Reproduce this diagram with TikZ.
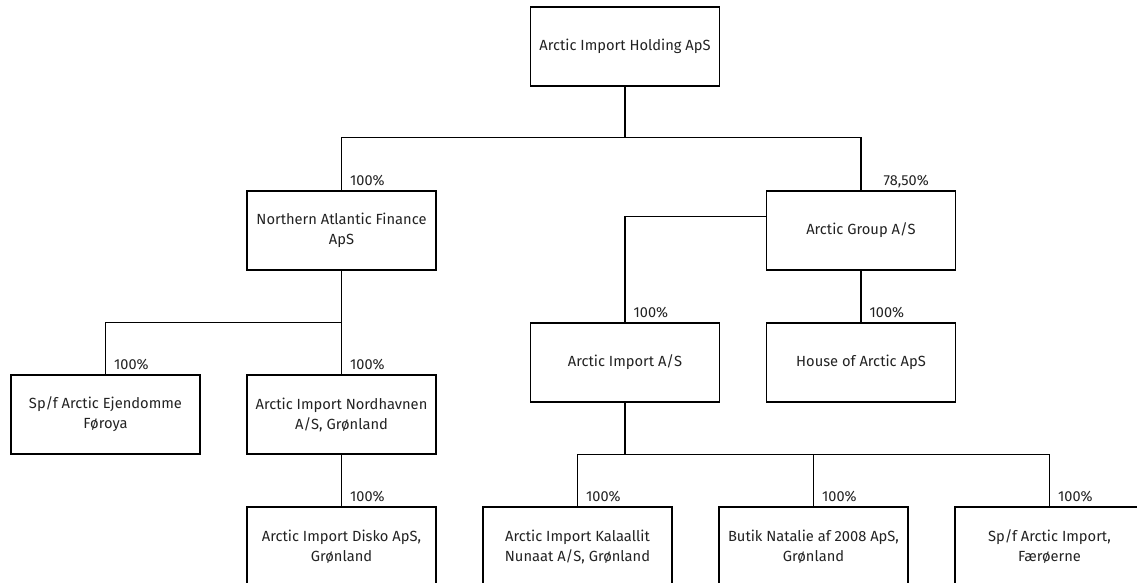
\documentclass[tikz,border=0pt]{standalone}
\usepackage{fontspec}
\setmainfont{Fira Sans}
\usetikzlibrary{calc}
\definecolor{txt}{HTML}{222222}
\tikzset{
  org/.style={draw=black, line width=1.3pt, rectangle, minimum width=189pt, minimum height=79pt,
    inner sep=0pt, align=center, text=txt, font=\fontsize{14.7}{20}\selectfont},
  pct/.style={anchor=base west, inner sep=0pt, text=txt, font=\fontsize{14.5}{16}\selectfont},
  conn/.style={draw=black, line width=1.3pt}
}
\begin{document}
\begin{tikzpicture}[x=1pt,y=-1pt]
\useasboundingbox (0,0) rectangle (1137,582);
% boxes
\node[org] (top) at (625,46.5) {Arctic Import Holding ApS};
\node[org] (naf) at (341.5,230.5) {Northern Atlantic Finance\\ApS};
\node[org] (ag) at (861,230.5) {Arctic Group A/S};
\node[org] (ai) at (625,362.5) {Arctic Import A/S};
\node[org] (house) at (861,362.5) {House of Arctic ApS};
\node[org] (ejd) at (105.5,414.5) {Sp/f Arctic Ejendomme\\Føroya};
\node[org] (nord) at (341.5,414.5) {Arctic Import Nordhavnen\\A/S, Grønland};
\node[org] (disko) at (341.5,546.5) {Arctic Import Disko ApS,\\Grønland};
\node[org] (kal) at (577.5,546.5) {Arctic Import Kalaallit\\Nunaat A/S, Grønland};
\node[org] (but) at (813.5,546.5) {Butik Natalie af 2008 ApS,\\Grønland};
\node[org] (far) at (1049.5,546.5) {Sp/f Arctic Import,\\Færøerne};
% bus coordinates
\coordinate (bus1) at (625,137.7);
\coordinate (bus2) at (341.5,322.7);
\coordinate (bus3) at (625,454.5);
% connectors
\draw[conn] (top.south) -- (bus1);
\draw[conn] (naf.north) |- (bus1) -| (ag.north);
\draw[conn] ([yshift=13.8pt]ag.west) -| (ai.north);
\draw[conn] (ag.south) -- (house.north);
\draw[conn] (naf.south) -- (nord.north);
\draw[conn] (ejd.north) |- (bus2);
\draw[conn] (nord.south) -- (disko.north);
\draw[conn] (ai.south) -- (bus3);
\draw[conn] (kal.north) |- (bus3) -| (far.north);
\draw[conn] (but.north) -- (but.north |- bus3);
% labels
\node[pct] (pnaf) at ([xshift=8.5pt,yshift=5pt]naf.north) {100\%};
\node[pct] (pag) at ([xshift=22.5pt,yshift=5pt]ag.north) {78,50\%};
\node[pct] (pai) at ([xshift=8.5pt,yshift=5pt]ai.north) {100\%};
\node[pct] (phouse) at ([xshift=8.5pt,yshift=5pt]house.north) {100\%};
\node[pct] (pejd) at ([xshift=8.5pt,yshift=5pt]ejd.north) {100\%};
\node[pct] (pnord) at ([xshift=8.5pt,yshift=5pt]nord.north) {100\%};
\node[pct] (pdisko) at ([xshift=8.5pt,yshift=5pt]disko.north) {100\%};
\node[pct] (pkal) at ([xshift=8.5pt,yshift=5pt]kal.north) {100\%};
\node[pct] (pbut) at ([xshift=8.5pt,yshift=5pt]but.north) {100\%};
\node[pct] (pfar) at ([xshift=8.5pt,yshift=5pt]far.north) {100\%};
\end{tikzpicture}
\end{document}
